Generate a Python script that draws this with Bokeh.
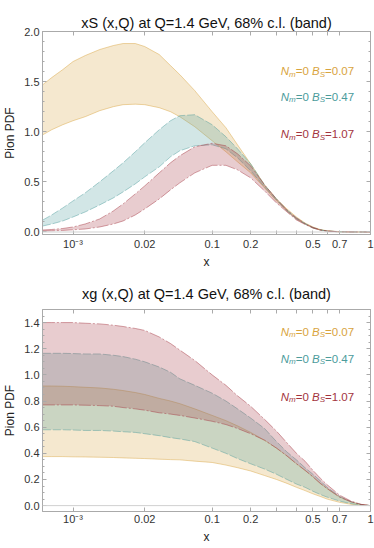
from bokeh.plotting import figure
from bokeh.models import (Range1d, FixedTicker, LinearAxis, Label, Span, SingleIntervalTicker,
                          CustomJSTickFormatter, PrintfTickFormatter, Title)
from bokeh.layouts import column
from bokeh.embed import file_html
from bokeh.resources import INLINE

# ---------------- data ----------------
x_vals = [8e-5, 2e-4, 5e-4, 1e-3, 2e-3, 4e-3, 7e-3, 0.01, 0.015, 0.02, 0.03, 0.04, 0.05, 0.07,
          0.1, 0.13, 0.16, 0.2, 0.25, 0.3, 0.35, 0.4, 0.45, 0.5, 0.55, 0.6, 0.7, 0.8, 0.9, 1.0]

# xS panel
s_gold_hi = [1.47, 1.54, 1.62, 1.70, 1.76, 1.82, 1.86, 1.88, 1.88, 1.85, 1.77, 1.66, 1.57, 1.41,
             1.20, 1.04, 0.87, 0.68, 0.47, 0.33, 0.23, 0.15, 0.09, 0.05, 0.025, 0.012, 0.003, 0.001, 0.0002, 0.0]
s_gold_lo = [0.97, 1.02, 1.07, 1.11, 1.15, 1.21, 1.25, 1.27, 1.275, 1.27, 1.24, 1.20, 1.15, 1.05,
             0.91, 0.80, 0.70, 0.59, 0.44, 0.31, 0.21, 0.13, 0.08, 0.04, 0.02, 0.009, 0.002, 0.0005, 0.0001, 0.0]
s_teal_hi = [0.12, 0.17, 0.24, 0.31, 0.39, 0.50, 0.61, 0.69, 0.80, 0.89, 1.02, 1.11, 1.16, 1.17,
             1.07, 0.95, 0.83, 0.68, 0.47, 0.33, 0.22, 0.14, 0.085, 0.045, 0.022, 0.01, 0.002, 0.0005, 0.0001, 0.0]
s_teal_lo = [0.06, 0.08, 0.11, 0.15, 0.20, 0.27, 0.34, 0.40, 0.48, 0.55, 0.65, 0.75, 0.81, 0.86,
             0.87, 0.83, 0.74, 0.61, 0.45, 0.32, 0.21, 0.13, 0.08, 0.04, 0.02, 0.009, 0.002, 0.0005, 0.0001, 0.0]
s_red_hi = [0.02, 0.025, 0.035, 0.05, 0.08, 0.13, 0.21, 0.28, 0.38, 0.46, 0.59, 0.69, 0.76, 0.85,
            0.885, 0.86, 0.78, 0.66, 0.47, 0.33, 0.22, 0.14, 0.085, 0.045, 0.022, 0.01, 0.002, 0.0005, 0.0001, 0.0]
s_red_lo = [0.01, 0.012, 0.016, 0.022, 0.03, 0.05, 0.08, 0.11, 0.17, 0.23, 0.33, 0.42, 0.49, 0.59,
            0.665, 0.665, 0.62, 0.54, 0.41, 0.29, 0.20, 0.12, 0.075, 0.04, 0.019, 0.008, 0.0015, 0.0004, 0.0001, 0.0]

# xg panel
g_red_hi = [1.40, 1.40, 1.40, 1.40, 1.395, 1.39, 1.38, 1.37, 1.355, 1.34, 1.29, 1.24, 1.19, 1.11,
            1.00, 0.92, 0.84, 0.76, 0.66, 0.57, 0.48, 0.40, 0.34, 0.27, 0.21, 0.16, 0.08, 0.035, 0.01, 0.0]
g_red_lo = [0.77, 0.77, 0.77, 0.77, 0.768, 0.765, 0.76, 0.75, 0.74, 0.73, 0.71, 0.70, 0.69, 0.67,
            0.645, 0.62, 0.59, 0.55, 0.50, 0.44, 0.38, 0.32, 0.27, 0.22, 0.17, 0.13, 0.065, 0.03, 0.008, 0.0]
g_teal_hi = [1.165, 1.165, 1.165, 1.163, 1.16, 1.16, 1.15, 1.14, 1.12, 1.10, 1.06, 1.02, 0.97, 0.92,
             0.86, 0.80, 0.74, 0.67, 0.59, 0.49, 0.41, 0.35, 0.29, 0.24, 0.19, 0.14, 0.07, 0.03, 0.008, 0.0]
g_teal_lo = [0.58, 0.58, 0.58, 0.578, 0.575, 0.575, 0.57, 0.565, 0.56, 0.55, 0.535, 0.52, 0.51, 0.49,
             0.44, 0.40, 0.36, 0.32, 0.28, 0.24, 0.20, 0.165, 0.14, 0.11, 0.085, 0.065, 0.035, 0.015, 0.004, 0.0]
g_gold_hi = [0.915, 0.915, 0.913, 0.91, 0.905, 0.90, 0.89, 0.88, 0.865, 0.85, 0.82, 0.80, 0.78, 0.74,
             0.69, 0.65, 0.61, 0.56, 0.50, 0.44, 0.38, 0.32, 0.27, 0.22, 0.17, 0.13, 0.065, 0.028, 0.008, 0.0]
g_gold_lo = [0.375, 0.375, 0.375, 0.373, 0.372, 0.37, 0.368, 0.365, 0.362, 0.36, 0.355, 0.352, 0.35, 0.34,
             0.33, 0.31, 0.29, 0.265, 0.23, 0.20, 0.17, 0.14, 0.115, 0.09, 0.07, 0.05, 0.025, 0.01, 0.003, 0.0]

series_bs = ["0.07", "0.47", "1.07"]
x_tick_vals = [1e-3, 0.02, 0.1, 0.2, 0.3, 0.4, 0.5, 0.6, 0.7, 1.0]
x_tick_text = ["10\u207b\u00b3", "0.02", "0.1", "0.2", "", "", "0.5", "", "0.7", "1"]

FONT = "Liberation Sans"
GOLD, TEAL, RED = "#D9A43E", "#4C9C9C", "#A3343E"
AXIS_COL = "#aaaaaa"


def tr(v):
    return [a ** 0.25 for a in v]


def style_axis(ax, labels=True):
    ax.axis_line_color = AXIS_COL
    ax.major_tick_line_color = AXIS_COL
    ax.minor_tick_line_color = AXIS_COL
    ax.major_tick_in = 4
    ax.major_tick_out = 0
    ax.minor_tick_in = 2
    ax.minor_tick_out = 0
    ax.major_label_text_font = FONT
    ax.major_label_text_font_size = "11px"
    ax.major_label_text_color = "#333333"
    ax.axis_label_text_font = FONT
    ax.axis_label_text_font_size = "12px"
    ax.axis_label_text_font_style = "normal"
    ax.axis_label_text_color = "#222222"
    if not labels:
        ax.formatter = CustomJSTickFormatter(code="return ''")
        ax.major_label_standoff = 0
        ax.major_label_text_font_size = "0px"
        ax.axis_label_standoff = 0


def make_panel(title, ylo, yhi, yint, nminor, bands, legend_y, height, top, bottom, tick_so, t_so):
    p = figure(width=374, height=height, output_backend="svg", toolbar_location=None,
               x_range=Range1d(0.0935, 1.0), y_range=Range1d(ylo, yhi),
               min_border_left=37, min_border_right=4, min_border_top=top, min_border_bottom=bottom)
    p.title.text = title
    p.title.align = "center"
    p.title.text_font = FONT
    p.title.text_font_size = "14.5px"
    p.title.text_font_style = "normal"
    p.title.text_color = "#111111"
    p.title.standoff = t_so
    p.xgrid.visible = False
    p.ygrid.visible = False
    p.outline_line_color = AXIS_COL
    p.background_fill_color = "white"

    tpos = tr(x_tick_vals)
    xa = p.xaxis[0]
    xa.ticker = FixedTicker(ticks=tpos, minor_ticks=[])
    xa.major_label_overrides = {t: s for t, s in zip(tpos, x_tick_text)}
    xa.major_label_standoff = tick_so
    style_axis(xa)
    p.add_layout(Title(text="x", align="center", text_font=FONT, text_font_size="12px",
                       text_font_style="normal", text_color="#222222", standoff=0), "below")

    ya = p.yaxis[0]
    ya.ticker = SingleIntervalTicker(interval=yint, num_minor_ticks=nminor)
    ya.formatter = PrintfTickFormatter(format="%.1f")
    ya.axis_label = "Pion PDF"
    ya.major_label_standoff = 3
    ya.axis_label_standoff = 4
    style_axis(ya)

    top_ax = LinearAxis(ticker=FixedTicker(ticks=tpos, minor_ticks=[]))
    style_axis(top_ax, labels=False)
    p.add_layout(top_ax, "above")
    right_ax = LinearAxis(ticker=SingleIntervalTicker(interval=yint, num_minor_ticks=nminor))
    style_axis(right_ax, labels=False)
    p.add_layout(right_ax, "right")

    p.add_layout(Span(location=0, dimension="width", line_color="#d0d0d0", line_width=1))

    t = tr(x_vals)
    for lo, hi, col, dash in bands:
        p.varea(x=t, y1=lo, y2=hi, fill_color=col, fill_alpha=0.25)
        p.line(t, lo, line_color=col, line_alpha=0.45, line_width=1, line_dash=dash)
        p.line(t, hi, line_color=col, line_alpha=0.45, line_width=1, line_dash=dash)

    cols = [GOLD, TEAL, RED]
    x0 = 0.752
    parts = [("N", "italic", "11.5px", 0.0, 0), ("m", "italic", "8px", 8.3, -3),
             ("=0", "normal", "11.5px", 15.0, 0), ("B", "italic", "11.5px", 31.3, 0),
             ("S", "italic", "8px", 39.0, -3)]
    for bs, col, yy in zip(series_bs, cols, legend_y):
        for txt, style, size, dx, dy in parts + [("=" + bs, "normal", "11.5px", 44.3, 0)]:
            p.add_layout(Label(x=x0, y=yy, x_offset=dx, y_offset=dy, text=txt,
                               text_font=FONT, text_font_style=style, text_font_size=size,
                               text_color=col, text_baseline="alphabetic", text_align="left"))
    return p


p1 = make_panel("xS (x,Q) at Q=1.4 GeV, 68% c.l. (band)", -0.025, 2.0, 0.5, 5,
                [(s_gold_lo, s_gold_hi, GOLD, "solid"),
                 (s_teal_lo, s_teal_hi, TEAL, "8 2"),
                 (s_red_lo, s_red_hi, RED, "12 2 2 2")],
                [1.605, 1.35, 0.975], 276, 31, 42, 3, 2)
p2 = make_panel("xg (x,Q) at Q=1.4 GeV, 68% c.l. (band)", -0.045, 1.5, 0.2, 4,
                [(g_gold_lo, g_gold_hi, GOLD, "solid"),
                 (g_teal_lo, g_teal_hi, TEAL, "8 2"),
                 (g_red_lo, g_red_hi, RED, "12 2 2 2")],
                [1.331, 1.125, 0.832], 272, 30, 37, 1, 15)

layout = column(p1, p2, spacing=0)
open("out.html", "w").write(file_html(layout, INLINE))
